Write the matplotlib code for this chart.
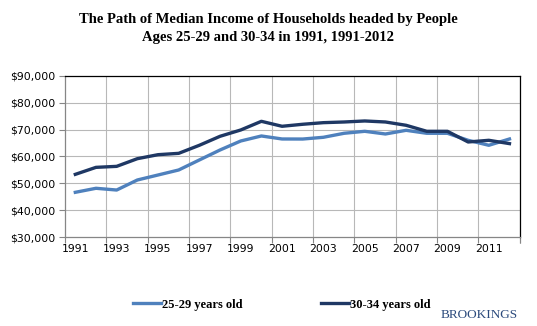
import numpy as np
import matplotlib
matplotlib.use("Agg")
import matplotlib.pyplot as plt
from matplotlib.lines import Line2D

years = list(range(1991, 2013))
age_25_29 = [46650, 48150, 47500, 51240, 53100, 54970, 58700, 62420, 65770, 67640, 66520,
             66500, 67150, 68640, 69380, 68380, 69750, 68640, 68640, 66030, 64170, 66520]
age_30_34 = [53340, 55950, 56320, 59180, 60670, 61170, 64170, 67520, 69870, 73100, 71250,
             72000, 72600, 72850, 73230, 72850, 71620, 69380, 69380, 65400, 66030, 64790]
y_ticks = [30000, 40000, 50000, 60000, 70000, 80000, 90000]

light = '#4F81BD'
dark = '#1F3864'
grid_col = '#B8B8B8'

fig = plt.figure(figsize=(5.37, 3.26), dpi=100)
ax = fig.add_axes([0.121, 0.273, 0.847, 0.494])

x = np.arange(len(years))
ax.plot(x, age_25_29, color=light, lw=2.4, solid_joinstyle='round')
ax.plot(x, age_30_34, color=dark, lw=2.4, solid_joinstyle='round')

ax.set_xlim(-0.5, len(years) - 0.5)
ax.set_ylim(30000, 90000)
ax.set_yticks(y_ticks)
ax.set_yticklabels(['${:,}'.format(v) for v in y_ticks])

# category labels every other year, ticks/gridlines on category boundaries
ax.set_xticks(x[::2])
ax.set_xticklabels([str(y) for y in years[::2]])
ax.tick_params(axis='x', length=0, pad=5)
bounds = np.arange(-0.5, len(years), 2)
ax.set_xticks(np.append(bounds, len(years) - 0.5), minor=True)
ax.tick_params(axis='x', which='minor', length=4, color='#868686', width=0.8)
ax.tick_params(axis='y', length=4, color='#868686', width=0.8, pad=3)
ax.tick_params(labelsize=7.8, labelcolor='#000000')

for b in bounds[1:]:
    ax.axvline(b, color=grid_col, lw=0.8, zorder=0)
for v in y_ticks[1:-1]:
    ax.axhline(v, color=grid_col, lw=0.8, zorder=0)

ax.spines['left'].set_color('#868686')
ax.spines['bottom'].set_color('#868686')
ax.spines['top'].set_color('black')
ax.spines['right'].set_color('black')
for s in ax.spines.values():
    s.set_linewidth(0.9)

fig.text(0.5, 0.912, 'The Path of Median Income of Households headed by People\nAges 25-29 and 30-34 in 1991, 1991-2012',
         ha='center', va='center', family='Liberation Serif', fontweight='bold', fontsize=10.5, linespacing=1.5)

leg_font = {'family': 'Liberation Serif', 'weight': 'bold', 'size': 9}
fig.legend([Line2D([], [], color=light, lw=2.4)], ['25-29 years old'], loc='center',
           bbox_to_anchor=(0.35, 0.065), frameon=False, handlelength=2.2, handletextpad=0.1, prop=leg_font)
fig.legend([Line2D([], [], color=dark, lw=2.4)], ['30-34 years old'], loc='center',
           bbox_to_anchor=(0.70, 0.065), frameon=False, handlelength=2.2, handletextpad=0.1, prop=leg_font)

fig.text(0.965, 0.035, 'BROOKINGS', ha='right', va='center', family='Liberation Serif',
         fontsize=9.5, color='#2B4A7C')

fig.savefig('out.png', dpi=100)
